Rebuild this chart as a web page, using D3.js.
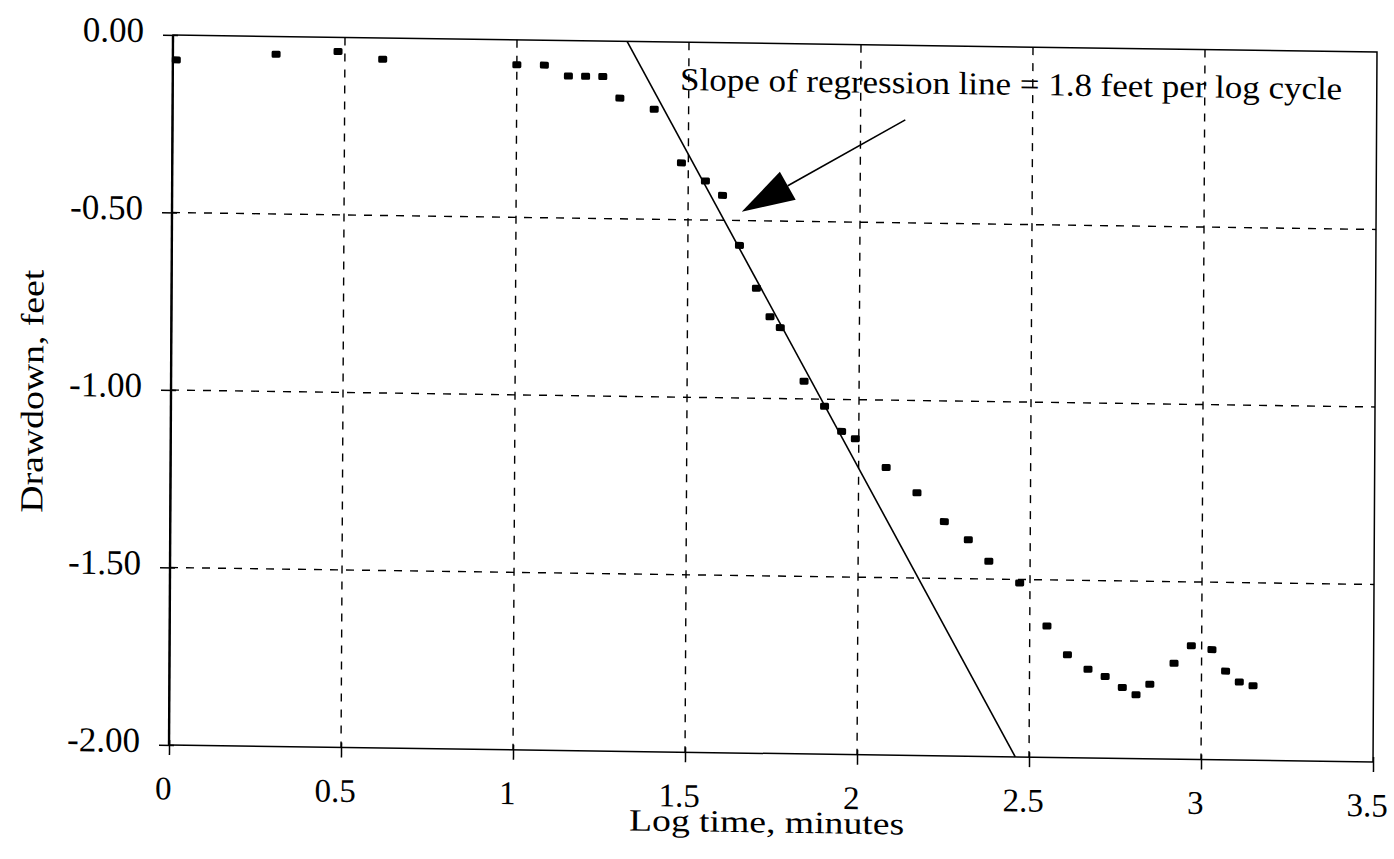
<!DOCTYPE html>
<html>
<head>
<meta charset="utf-8">
<script src="https://cdn.jsdelivr.net/npm/d3@7"></script>
<style>
  body { margin: 0; background: #fff; }
</style>
</head>
<body>
<script>
// pumping test drawdown vs log time
var logTime = [0.01, 0.30, 0.48, 0.61, 1.00, 1.08, 1.15, 1.20, 1.25, 1.30, 1.40,
    1.48, 1.55, 1.60, 1.65, 1.70, 1.74, 1.77, 1.84, 1.90, 1.95, 1.99,
    2.08, 2.17, 2.25, 2.32, 2.38, 2.47, 2.55, 2.61, 2.67, 2.72, 2.77, 2.81, 2.85,
    2.92, 2.97, 3.03, 3.07, 3.11, 3.15];
var drawdown = [-0.07, -0.05, -0.04, -0.06, -0.07, -0.07, -0.10, -0.10, -0.10, -0.16, -0.19,
    -0.34, -0.39, -0.43, -0.57, -0.69, -0.77, -0.80, -0.95, -1.02, -1.09, -1.11,
    -1.19, -1.26, -1.34, -1.39, -1.45, -1.51, -1.63, -1.71, -1.75, -1.77, -1.80, -1.82, -1.79,
    -1.73, -1.68, -1.69, -1.75, -1.78, -1.79];

// regression line end points (log time, drawdown)
var regX = [1.32, 2.46];
var regY = [0, -2];

var xTicks = [0, 0.5, 1, 1.5, 2, 2.5, 3, 3.5];
var xTickLabels = ['0', '0.5', '1', '1.5', '2', '2.5', '3', '3.5'];
var yTicks = [0, -0.5, -1, -1.5, -2];
var yTickLabels = ['0.00', '-0.50', '-1.00', '-1.50', '-2.00'];

var note = 'Slope of regression line = 1.8 feet per log cycle';
var xTitle = 'Log time, minutes';
var yTitle = 'Drawdown, feet';

var serif = "'Liberation Serif', 'Times New Roman', serif";
var W = 1204, H = 710;

var svg = d3.select('body').append('svg')
    .attr('width', 1394)
    .attr('height', 859);

svg.append('rect')
    .attr('width', 1394)
    .attr('height', 859)
    .attr('fill', '#fff');

// the scanned page is a little skewed, so the whole chart is too
var g = svg.append('g')
    .attr('transform', 'matrix(1,0.0141,-0.0056,1,173,35)');

var x = d3.scaleLinear().domain([0, 3.5]).range([0, W]);
var y = d3.scaleLinear().domain([-2, 0]).range([H, 0]);

// dashed grid
g.selectAll('.gx')
    .data(xTicks.slice(1, -1))
    .enter().append('line')
    .attr('x1', d => x(d))
    .attr('x2', d => x(d))
    .attr('y1', 0)
    .attr('y2', H)
    .attr('stroke', '#000')
    .attr('stroke-width', 1.4)
    .attr('stroke-dasharray', '8,8');

g.selectAll('.gy')
    .data(yTicks.slice(1, -1))
    .enter().append('line')
    .attr('x1', 0)
    .attr('x2', W)
    .attr('y1', d => y(d))
    .attr('y2', d => y(d))
    .attr('stroke', '#000')
    .attr('stroke-width', 1.4)
    .attr('stroke-dasharray', '8,8');

// regression line
g.append('line')
    .attr('x1', x(regX[0]))
    .attr('y1', y(regY[0]))
    .attr('x2', x(regX[1]))
    .attr('y2', y(regY[1]))
    .attr('stroke', '#000')
    .attr('stroke-width', 1.6);

// annotation text and arrow
g.append('text')
    .attr('x', x(1.475))
    .attr('y', y(-0.135))
    .style('font-family', serif)
    .attr('font-size', 32)
    .attr('textLength', 662)
    .attr('lengthAdjust', 'spacingAndGlyphs')
    .text(note);

var tail = [x(2.13), y(-0.21)];
var tip = [x(1.656), y(-0.475)];
var ang = Math.atan2(tip[1] - tail[1], tip[0] - tail[0]);
var headLen = 53, headHalf = 16;
var base = [tip[0] - headLen * Math.cos(ang), tip[1] - headLen * Math.sin(ang)];

g.append('line')
    .attr('x1', tail[0])
    .attr('y1', tail[1])
    .attr('x2', base[0])
    .attr('y2', base[1])
    .attr('stroke', '#000')
    .attr('stroke-width', 1.6);

g.append('path')
    .attr('d', 'M' + tip[0] + ',' + tip[1] +
        'L' + (base[0] - headHalf * Math.sin(ang)) + ',' + (base[1] + headHalf * Math.cos(ang)) +
        'L' + (base[0] + headHalf * Math.sin(ang)) + ',' + (base[1] - headHalf * Math.cos(ang)) + 'Z')
    .attr('fill', '#000');

// data points
g.selectAll('.pt')
    .data(logTime)
    .enter().append('rect')
    .attr('x', (d, i) => x(d) - 4.5)
    .attr('y', (d, i) => y(drawdown[i]) - 3.5)
    .attr('width', 9)
    .attr('height', 7)
    .attr('rx', 1.5)
    .attr('fill', '#000');

// frame
g.append('rect')
    .attr('width', W)
    .attr('height', H)
    .attr('fill', 'none')
    .attr('stroke', '#000')
    .attr('stroke-width', 1.5);

g.append('line')
    .attr('x1', 0).attr('x2', 0)
    .attr('y1', 0).attr('y2', H)
    .attr('stroke', '#000')
    .attr('stroke-width', 2.4);

// axes
var yAxis = g.append('g')
    .call(d3.axisLeft(y).tickValues(yTicks).tickSize(10).tickPadding(19)
        .tickFormat((d, i) => yTickLabels[i]));
yAxis.attr('font-family', null);
yAxis.select('.domain').remove();
yAxis.selectAll('line').attr('x1', 5).attr('stroke-width', 1.5);
yAxis.selectAll('text')
    .style('font-family', serif)
    .attr('font-size', 35)
    .attr('dy', '0.2em');

var xAxis = g.append('g')
    .attr('transform', 'translate(0,' + H + ')')
    .call(d3.axisBottom(x).tickValues(xTicks).tickSize(10).tickPadding(21)
        .tickFormat((d, i) => xTickLabels[i]));
xAxis.attr('font-family', null);
xAxis.select('.domain').remove();
xAxis.selectAll('line').attr('y1', -5).attr('stroke-width', 1.5);
xAxis.selectAll('text')
    .style('font-family', serif)
    .attr('font-size', 33)
    .attr('dx', -6);

g.append('text')
    .attr('x', W / 2 - 4)
    .attr('y', H + 79)
    .attr('text-anchor', 'middle')
    .style('font-family', serif)
    .attr('font-size', 31)
    .attr('textLength', 275)
    .attr('lengthAdjust', 'spacingAndGlyphs')
    .text(xTitle);

g.append('text')
    .attr('transform', 'translate(-128,358) rotate(-90)')
    .attr('text-anchor', 'middle')
    .style('font-family', serif)
    .attr('font-size', 32)
    .attr('textLength', 243)
    .attr('lengthAdjust', 'spacingAndGlyphs')
    .text(yTitle);
</script>
</body>
</html>
